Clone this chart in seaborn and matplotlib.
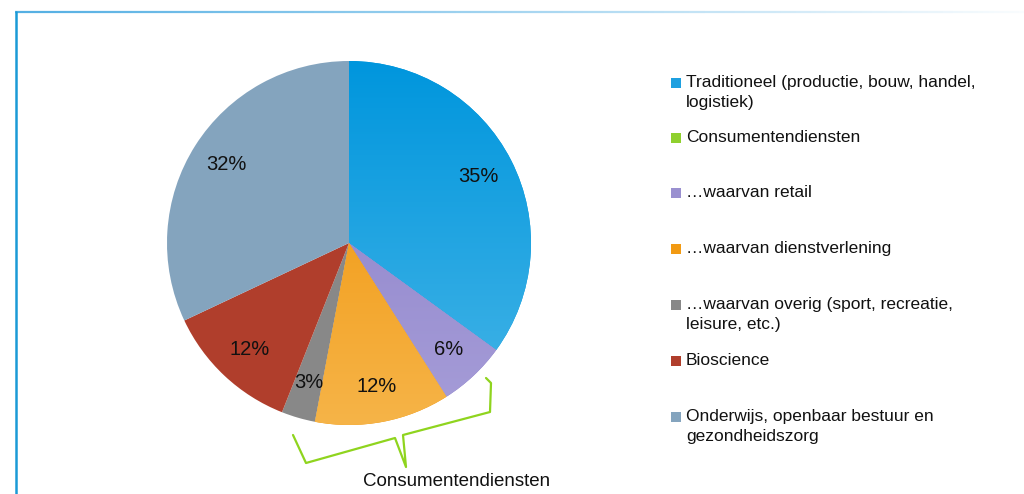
import numpy as np
import matplotlib
matplotlib.use("Agg")
import matplotlib.pyplot as plt
import seaborn as sns
from matplotlib.patches import Rectangle
from matplotlib.collections import LineCollection
from matplotlib.colors import LinearSegmentedColormap

sns.set_theme(style="white")
plt.rcParams['font.family'] = ['Liberation Sans', 'DejaVu Sans']

# ---- data ----
slice_labels = ["Traditioneel", "retail", "dienstverlening", "overig", "Bioscience", "Onderwijs"]
slice_values = [35, 6, 12, 3, 12, 32]
slice_top = ["#0096DD", "#8A7EC8", "#EF9000", "#888888", "#B03E2C", "#84A4BE"]
slice_bottom = ["#46B5E7", "#A69DD8", "#F6B448", "#888888", "#B03E2C", "#84A4BE"]

legend_labels = [
    "Traditioneel (productie, bouw, handel,\nlogistiek)",
    "Consumentendiensten",
    "\u2026waarvan retail",
    "\u2026waarvan dienstverlening",
    "\u2026waarvan overig (sport, recreatie,\nleisure, etc.)",
    "Bioscience",
    "Onderwijs, openbaar bestuur en\ngezondheidszorg",
]
legend_colors = ["#1EA0E0", "#8FD02E", "#9A90D0", "#F29A12", "#888888", "#B03E2C", "#84A4BE"]
bracket_label = "Consumentendiensten"

W, H = 1024, 494
fig = plt.figure(figsize=(W / 100, H / 100), dpi=100)
fig.patch.set_facecolor("white")

def fx(x):
    return x / W

def fy(y):
    return 1 - y / H

# pie axes
cx, cy, r = 349, 243, 182
ax = fig.add_axes([fx(cx - r), fy(cy + r), 2 * r / W, 2 * r / H])
wedges, texts, autotexts = ax.pie(
    slice_values, colors=slice_top, startangle=90, counterclock=False,
    autopct=lambda p: f"{p:.0f}%", pctdistance=0.8, radius=1,
    wedgeprops=dict(linewidth=0), textprops=dict(fontsize=14.5, color="#111111"))
ax.set_xlim(-1, 1)
ax.set_ylim(-1, 1)
ax.set_aspect("equal")
ax.axis("off")

# vertical gradients clipped to wedges
for w, ct, cb in zip(wedges, slice_top, slice_bottom):
    if ct == cb:
        continue
    cmap = LinearSegmentedColormap.from_list("g", [cb, ct])
    grad = np.linspace(0, 1, 256).reshape(-1, 1)
    im = ax.imshow(grad, cmap=cmap, extent=[-1, 1, -1, 1], origin="lower",
                   aspect="auto", zorder=w.get_zorder() + 0.5)
    im.set_clip_path(w)
for t in autotexts:
    t.set_zorder(5)

# legend drawn manually
entry_y = [83, 138, 193, 249, 305, 361, 417]
for lab, col, y in zip(legend_labels, legend_colors, entry_y):
    fig.patches.append(Rectangle((fx(671), fy(y + 5)), 10 / W, 10 / H,
                                 transform=fig.transFigure, facecolor=col,
                                 edgecolor="none"))
    fig.text(fx(686), fy(y - 8), lab, fontsize=12.5, color="#111111",
             va="top", ha="left", linespacing=1.45)

# bracket
bx = [293, 306, 395, 406, 403, 490, 491, 486]
by = [435, 463, 438, 467, 435, 412, 383, 378]
fig.lines.append(plt.Line2D([fx(v) for v in bx], [fy(v) for v in by],
                            transform=fig.transFigure, color="#8FD41E",
                            linewidth=1.6, solid_joinstyle="round"))
fig.text(fx(457), fy(481), bracket_label, fontsize=13.5, color="#111111",
         ha="center", va="center")

# frame lines
fig.lines.append(plt.Line2D([fx(15.5), fx(15.5)], [fy(12), fy(494)],
                            transform=fig.transFigure, color="#1A9AD6", linewidth=1.8))
xs = np.linspace(15, 1024, 200)
segs = [[(fx(xs[i]), fy(12)), (fx(xs[i + 1]), fy(12))] for i in range(len(xs) - 1)]
alphas = np.linspace(0.9, 0.03, len(segs))
cols = [(0.25, 0.65, 0.88, a) for a in alphas]
lc = LineCollection(segs, colors=cols, linewidths=1.6, transform=fig.transFigure)
fig.add_artist(lc)

fig.savefig("out.png", dpi=100, facecolor="white")
